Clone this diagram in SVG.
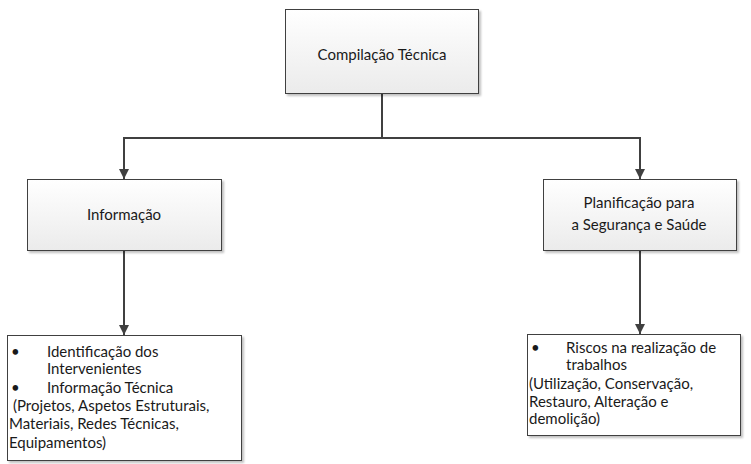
<svg xmlns="http://www.w3.org/2000/svg" width="751" height="464" viewBox="0 0 751 464">
<defs>
<linearGradient id="g" x1="0" y1="0" x2="0" y2="1">
<stop offset="0" stop-color="#ffffff"/>
<stop offset="1" stop-color="#ebebeb"/>
</linearGradient>
<filter id="sh" x="-5%" y="-5%" width="115%" height="120%">
<feOffset in="SourceAlpha" dx="2" dy="2" result="o"/>
<feGaussianBlur in="o" stdDeviation="1.2" result="b"/>
<feComponentTransfer in="b" result="c"><feFuncA type="linear" slope="0.25"/></feComponentTransfer>
<feMerge><feMergeNode in="c"/><feMergeNode in="SourceGraphic"/></feMerge>
</filter>
<marker id="arr" viewBox="0 0 10 10" refX="10" refY="5" markerWidth="10" markerHeight="10" markerUnits="userSpaceOnUse" orient="auto">
<path d="M0,0 L10,5 L0,10 z" fill="#404040"/>
</marker>
</defs>
<style>
.box{fill:url(#g);stroke:#404040;stroke-width:1;filter:url(#sh)}
.wbox{fill:#ffffff;stroke:#404040;stroke-width:1;filter:url(#sh)}
text{font-family:Lato,"Open Sans","DejaVu Sans",sans-serif;font-size:15px;fill:#1a1a1a}
.c{text-anchor:middle}
.con{fill:none;stroke:#404040;stroke-width:2}
</style>
<g id="connectors">
<path class="con" d="M382,93 V138"/>
<path class="con" d="M124,138 H640"/>
<path class="con" d="M124,137 V179" marker-end="url(#arr)"/>
<path class="con" d="M640,137 V179" marker-end="url(#arr)"/>
<path class="con" d="M124,250 V335" marker-end="url(#arr)"/>
<path class="con" d="M640,250 V334" marker-end="url(#arr)"/>
</g>
<g id="compilacao">
<rect class="box" x="285.5" y="9.5" width="193" height="84"/>
<text class="c" x="382" y="59.5">Compilação Técnica</text>
</g>
<g id="informacao">
<rect class="box" x="27.5" y="179.5" width="194" height="71"/>
<text class="c" x="124" y="220">Informação</text>
</g>
<g id="planificacao">
<rect class="box" x="543.5" y="179.5" width="193" height="71"/>
<text class="c" x="639" y="208">Planificação para</text>
<text class="c" x="639" y="230">a Segurança e Saúde</text>
</g>
<g id="info-detalhe">
<rect class="wbox" x="7.5" y="335.5" width="234" height="125"/>
<text x="11" y="357">•</text>
<text x="47" y="357">Identificação dos</text>
<text x="47" y="374">Intervenientes</text>
<text x="11" y="393">•</text>
<text x="47" y="393">Informação Técnica</text>
<text x="13" y="411">(Projetos, Aspetos Estruturais,</text>
<text x="9" y="429">Materiais, Redes Técnicas,</text>
<text x="9" y="448">Equipamentos)</text>
</g>
<g id="riscos">
<rect class="wbox" x="527.5" y="334.5" width="213" height="101"/>
<text x="531" y="353">•</text>
<text x="566" y="353">Riscos na realização de</text>
<text x="566" y="370">trabalhos</text>
<text x="529" y="389">(Utilização, Conservação,</text>
<text x="529" y="407">Restauro, Alteração e</text>
<text x="529" y="424">demolição)</text>
</g>
</svg>
